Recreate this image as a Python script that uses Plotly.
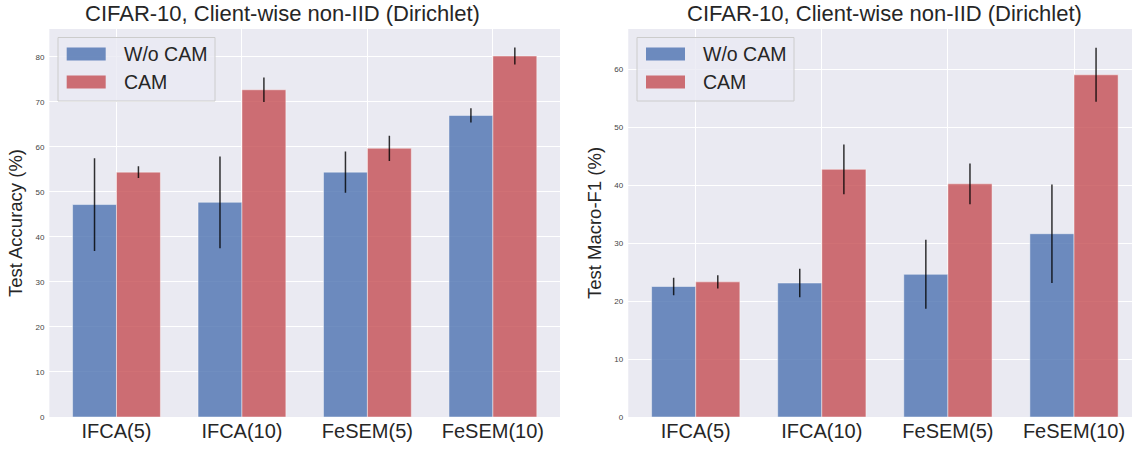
import plotly.graph_objects as go

# Methods compared on CIFAR-10 with Dirichlet client-wise non-IID partition
methods = ["IFCA(5)", "IFCA(10)", "FeSEM(5)", "FeSEM(10)"]

acc_wo_cam = [47.2, 47.7, 54.4, 67.0]
acc_wo_cam_err = [10.3, 10.2, 4.6, 1.6]
acc_cam = [54.4, 72.7, 59.7, 80.2]
acc_cam_err = [1.3, 2.7, 2.8, 1.9]

f1_wo_cam = [22.5, 23.1, 24.6, 31.6]
f1_wo_cam_err = [1.5, 2.45, 5.95, 8.5]
f1_cam = [23.3, 42.7, 40.2, 59.0]
f1_cam_err = [1.15, 4.3, 3.5, 4.65]

series_names = ["W/o CAM", "CAM"]
title_text = "CIFAR-10, Client-wise non-IID (Dirichlet)"
y_titles = ["Test Accuracy (%)", "Test Macro-F1 (%)"]

BLUE = "rgba(76,114,176,0.8)"
RED = "rgba(196,78,82,0.8)"
BG = "#EAEAF2"
FONT = "Liberation Sans, Arial, sans-serif"
TXT = "#262626"
W = 0.35
pos = list(range(len(methods)))

FIG_W, FIG_H = 1132, 449
M_T, M_B = 29, 32


def px(x):
    return x / FIG_W


def py(y):
    return (FIG_H - M_B - y) / (FIG_H - M_T - M_B)


fig = go.Figure()


def add_bars(xa, ya, vals, errs, color, shift):
    fig.add_trace(go.Bar(
        x=[p + shift for p in pos], y=vals, width=W,
        marker=dict(color=color, line=dict(color="rgba(255,255,255,0.45)", width=1)),
        error_y=dict(type="data", array=errs, visible=True, width=0,
                     thickness=1.5, color="rgba(0,0,0,0.8)"),
        xaxis=xa, yaxis=ya, showlegend=False,
    ))


add_bars("x", "y", acc_wo_cam, acc_wo_cam_err, BLUE, -W / 2)
add_bars("x", "y", acc_cam, acc_cam_err, RED, W / 2)
add_bars("x2", "y2", f1_wo_cam, f1_wo_cam_err, BLUE, -W / 2)
add_bars("x2", "y2", f1_cam, f1_cam_err, RED, W / 2)

axis_common = dict(
    showgrid=True, gridcolor="white", gridwidth=1.2, zeroline=False,
    showline=False, ticks="",
)

fig.update_layout(
    width=FIG_W, height=FIG_H,
    margin=dict(l=0, r=0, t=M_T, b=M_B),
    paper_bgcolor="white", plot_bgcolor=BG,
    font=dict(family=FONT, color=TXT),
    barmode="overlay", showlegend=False,
    xaxis=dict(domain=[0.0436, 0.4947], range=[-0.535, 3.535],
               tickmode="array", tickvals=pos, ticktext=methods,
               tickfont=dict(size=20), **axis_common),
    xaxis2=dict(domain=[0.555, 1.0], range=[-0.535, 3.46],
                tickmode="array", tickvals=pos, ticktext=methods,
                tickfont=dict(size=20), anchor="y2", **axis_common),
    yaxis=dict(range=[0, 86.2], dtick=10, tickfont=dict(size=8, color="#444"),
               ticklabelstandoff=4,
               title=dict(text=y_titles[0], font=dict(size=18.5), standoff=7),
               **axis_common),
    yaxis2=dict(range=[0, 66.9], dtick=10, tickfont=dict(size=8, color="#444"),
                ticklabelstandoff=4,
                title=dict(text=y_titles[1], font=dict(size=18.5), standoff=7),
                anchor="x2", **axis_common),
)

# panel titles
for xc in [282, 884]:
    fig.add_annotation(text=title_text, x=px(xc), y=1, xref="paper", yref="paper",
                       xanchor="center", yanchor="bottom", yshift=1, showarrow=False,
                       font=dict(size=22, family=FONT, color=TXT))

# legends with wide swatches: (box left, box right, swatch left, swatch right, text left)
legend_boxes = [(58, 215, 66.7, 105.7, 121.5), (637, 794, 646, 685, 701)]
row_centers = [54, 82]
for bx0, bx1, sx0, sx1, tx in legend_boxes:
    fig.add_shape(type="rect", xref="paper", yref="paper",
                  x0=px(bx0), x1=px(bx1), y0=py(101), y1=py(37.5),
                  fillcolor="rgba(234,234,242,0.8)",
                  line=dict(color="#CCCCCC", width=1), layer="above")
    for name, color, yc in zip(series_names, [BLUE, RED], row_centers):
        fig.add_shape(type="rect", xref="paper", yref="paper",
                      x0=px(sx0), x1=px(sx1), y0=py(yc + 6.5), y1=py(yc - 6.5),
                      fillcolor=color, line=dict(width=0), layer="above")
        fig.add_annotation(text=name, x=px(tx), y=py(yc), xref="paper", yref="paper",
                           xanchor="left", yanchor="middle", showarrow=False,
                           font=dict(size=19.5, family=FONT, color=TXT))

fig.write_html("out.html")
